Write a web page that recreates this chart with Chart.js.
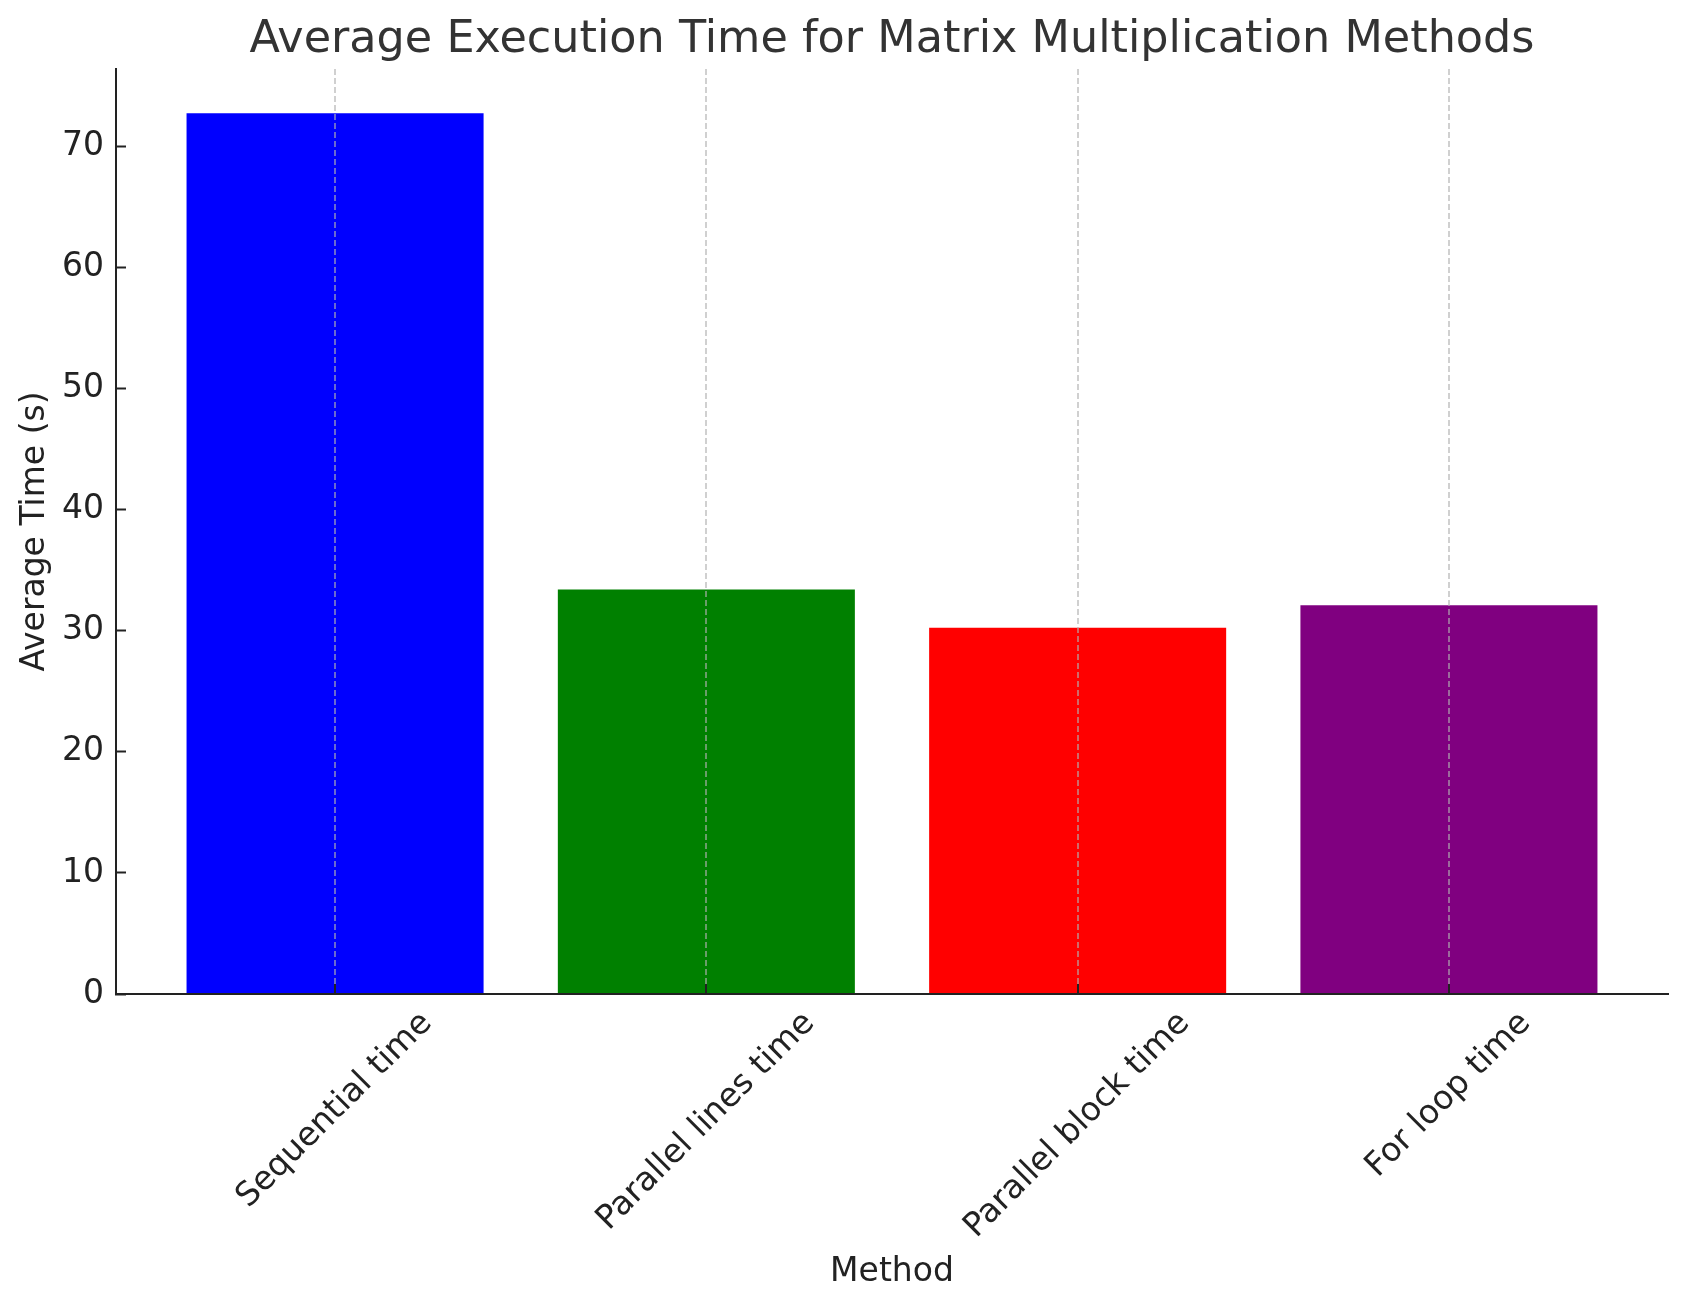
<!DOCTYPE html>
<html><head><meta charset="utf-8">
<script src="https://cdn.jsdelivr.net/npm/chart.js@4.4.0/dist/chart.umd.min.js"></script>
<style>html,body{margin:0;padding:0;background:#fff;} #wrap{width:1686px;height:1308px;}</style>
</head><body><div id="wrap"><canvas id="c" width="1686" height="1308"></canvas></div>
<script>
const categories = ['Sequential time', 'Parallel lines time', 'Parallel block time', 'For loop time'];
const avgTimes = [72.75, 33.4, 30.25, 32.1];
const barColors = ['#0000ff', '#008000', '#ff0000', '#800080'];
const yTicks = [0, 10, 20, 30, 40, 50, 60, 70];

const FONT = 'DejaVu Sans';
const TICK_SIZE = 33;

// Draws the x tick labels rotated 45 degrees, each label's rotated box centred
// on its tick (as the reference does), at positions taken from the x scale.
const rotatedTickLabels = {
  id: 'rotatedTickLabels',
  afterDraw(chart) {
    const s = chart.scales.x;
    const ctx = chart.ctx;
    ctx.save();
    ctx.font = TICK_SIZE + 'px "' + FONT + '"';
    ctx.fillStyle = '#222';
    ctx.textAlign = 'left';
    ctx.textBaseline = 'alphabetic';
    const c = Math.SQRT1_2;
    const h = 0.968 * TICK_SIZE;
    const desc = 0.236 * TICK_SIZE;
    const y0 = s.top + 13;
    s.ticks.forEach((t, i) => {
      const label = categories[t.value];
      const px = s.getPixelForTick(i);
      const w = ctx.measureText(label).width;
      const ox = px - 0.5 * c * (w - h);
      const oy = y0 + c * (w + h);
      const bx = ox - desc * c;
      const by = oy - desc * c;
      ctx.save();
      ctx.translate(bx, by);
      ctx.rotate(-Math.PI / 4);
      ctx.fillText(label, 0, 0);
      ctx.restore();
    });
    ctx.restore();
  }
};

new Chart(document.getElementById('c'), {
  type: 'bar',
  data: {
    datasets: [{
      data: avgTimes.map((v, i) => ({x: i, y: v})),
      backgroundColor: barColors,
      borderWidth: 0,
      categoryPercentage: 1,
      barPercentage: 0.8
    }]
  },
  plugins: [rotatedTickLabels],
  options: {
    responsive: false,
    animation: false,
    devicePixelRatio: 1,
    layout: {padding: {left: 0, right: 18, top: 0, bottom: 0}},
    plugins: {
      legend: {display: false},
      tooltip: {enabled: false},
      title: {
        display: true,
        fullSize: false,
        text: 'Average Execution Time for Matrix Multiplication Methods',
        color: '#333',
        font: {family: FONT, size: 44.5, weight: 'normal', lineHeight: 1.2},
        padding: {top: 13.4, bottom: 2.2}
      }
    },
    scales: {
      x: {
        type: 'linear', min: -0.59, max: 3.59, offset: false,
        afterBuildTicks: a => { a.ticks = categories.map((c, i) => ({value: i})); },
        afterFit: s => { s.height = 314; },
        grid: {display: true, offset: false, drawOnChartArea: true, color: 'rgba(176,176,176,0.6)', lineWidth: 2,
               tickLength: -10, tickColor: '#222', tickWidth: 2, tickBorderDash: [], z: 1},
        border: {display: true, color: '#222', width: 2, dash: [6, 3], z: 2},
        ticks: {display: false, autoSkip: false},
        title: {display: true, text: 'Method', color: '#222', font: {family: FONT, size: 33}, padding: {top: 0, bottom: 16}}
      },
      y: {
        min: 0, max: 76.4,
        afterBuildTicks: a => { a.ticks = yTicks.map(v => ({value: v})); },
        afterFit: s => { s.width = 116; },
        grid: {display: true, drawOnChartArea: false, tickLength: -10, tickColor: '#222', tickWidth: 2, z: 1},
        border: {display: true, color: '#222', width: 2, z: 2},
        ticks: {padding: 22, color: '#222', font: {family: FONT, size: 33}},
        title: {display: true, text: 'Average Time (s)', color: '#222', font: {family: FONT, size: 33}, padding: {top: 16, bottom: 0}}
      }
    }
  }
});
</script></body></html>
